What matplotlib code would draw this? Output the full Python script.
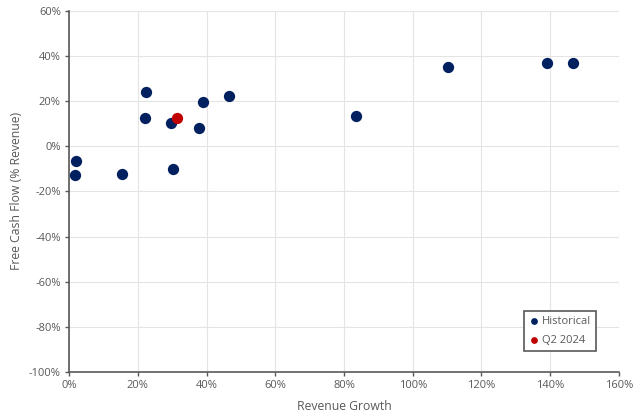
import matplotlib
matplotlib.use("Agg")
import matplotlib.pyplot as plt
from matplotlib.ticker import PercentFormatter

hist_growth = [1.9, 1.8, 15.3, 22.4, 22.2, 29.7, 30.2, 37.9, 38.9, 46.5, 83.5, 110.3, 139.2, 146.7]
hist_fcf = [-6.6, -12.8, -12.1, 24.0, 12.7, 10.2, -9.9, 8.3, 19.6, 22.1, 13.6, 35.1, 37.0, 36.7]
q2_growth = [31.3]
q2_fcf = [12.4]
series_names = ["Historical", "Q2 2024"]

plt.rcParams['font.family'] = ['Open Sans', 'DejaVu Sans']
plt.rcParams['axes.unicode_minus'] = False
fig = plt.figure(figsize=(6.4, 4.17), dpi=100)
ax = fig.add_axes([0.108, 0.108, 0.859, 0.866])

ax.scatter(hist_growth, hist_fcf, s=66, color='#002060', zorder=3, label=series_names[0], linewidths=0)
ax.scatter(q2_growth, q2_fcf, s=66, color='#C00000', zorder=3, label=series_names[1], linewidths=0)

ax.set_xlim(0, 160)
ax.set_ylim(-100, 60)
ax.set_xticks(range(0, 161, 20))
ax.set_yticks(range(-100, 61, 20))
ax.xaxis.set_major_formatter(PercentFormatter(decimals=0))
ax.yaxis.set_major_formatter(PercentFormatter(decimals=0))
ax.grid(True, color='#e4e4e4', linewidth=0.8)
ax.set_axisbelow(True)
for s in ['top', 'right']:
    ax.spines[s].set_visible(False)
for s in ['left', 'bottom']:
    ax.spines[s].set_color('#595959')
    ax.spines[s].set_linewidth(1.2)
ax.tick_params(axis='both', colors='#595959', labelsize=8, length=3, width=1, direction='out', pad=3)
ax.set_xlabel("Revenue Growth", color='#595959', fontsize=8.8, labelpad=6)
ax.set_ylabel("Free Cash Flow (% Revenue)", color='#595959', fontsize=8.8, labelpad=4)

leg = ax.legend(loc='lower right', bbox_to_anchor=(0.958, 0.058), fontsize=8, markerscale=0.6,
                handletextpad=0.2, borderpad=0.45, labelspacing=0.7, handlelength=0.9,
                borderaxespad=0, fancybox=False, framealpha=1, edgecolor='#595959')
leg.get_frame().set_linewidth(1.2)
for t in leg.get_texts():
    t.set_color('#595959')

fig.savefig("out.png", dpi=100)
